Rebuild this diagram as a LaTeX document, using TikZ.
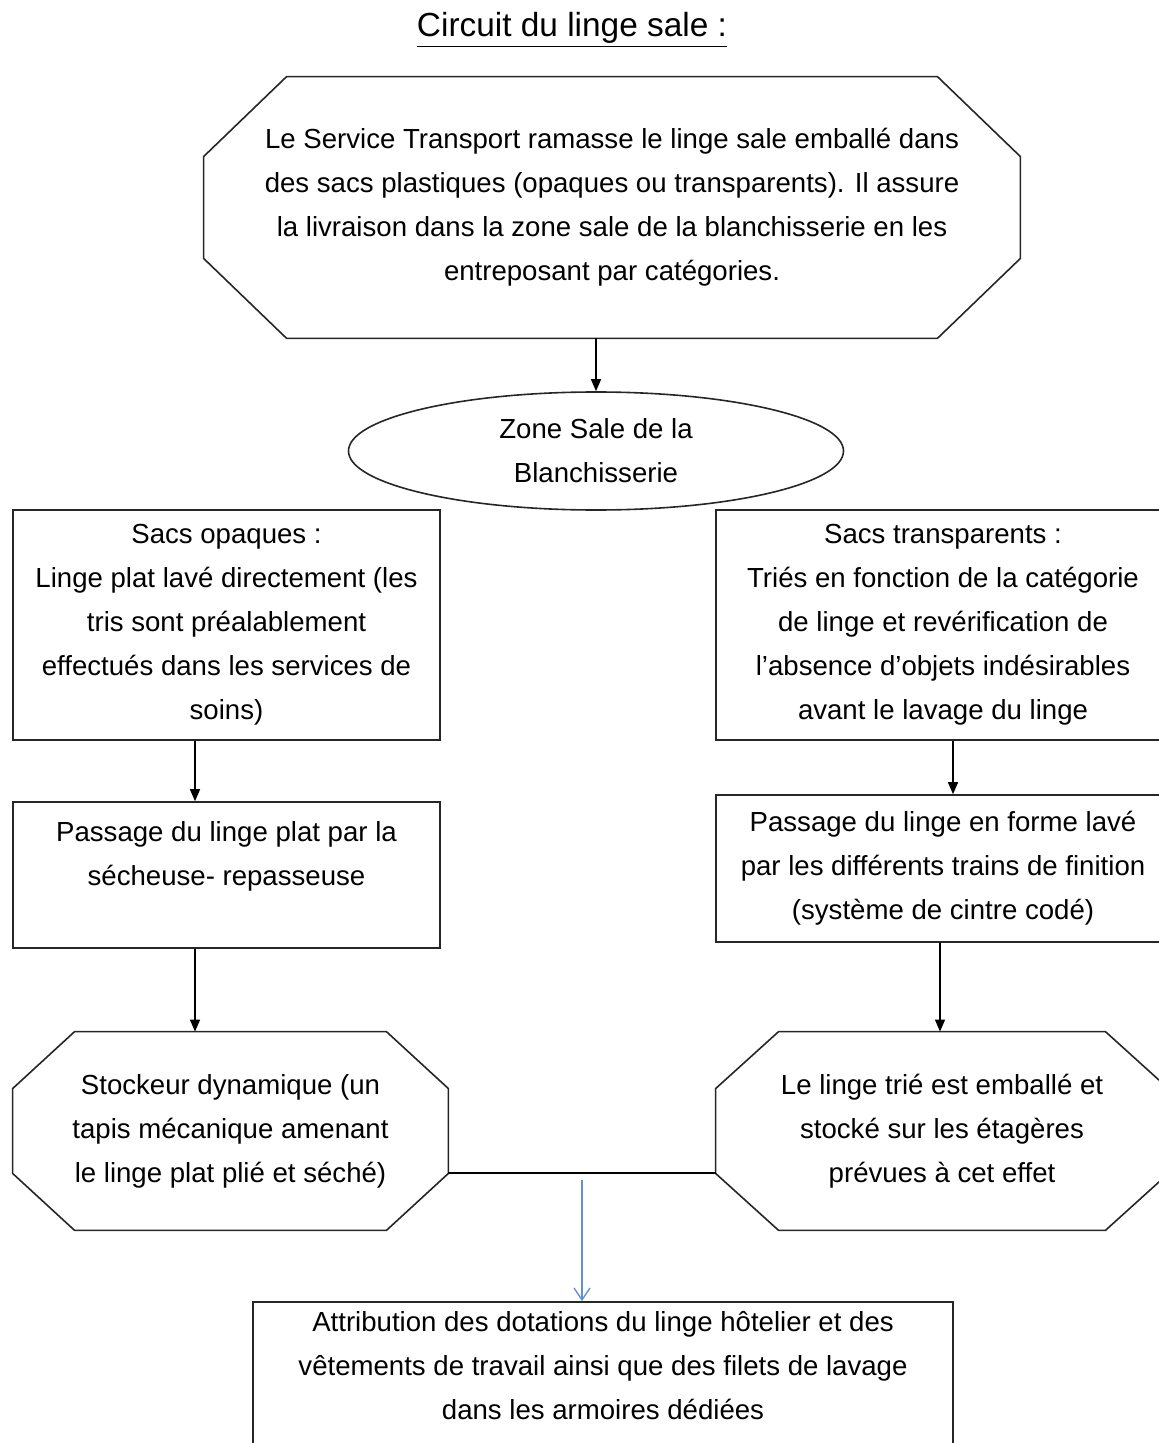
\documentclass[tikz,border=0pt]{standalone}
\usepackage{fontspec}
\setmainfont{Liberation Sans}
\usetikzlibrary{calc}
\usetikzlibrary{shapes.geometric}
\usetikzlibrary{arrows.meta}

\definecolor{arrowblue}{RGB}{100,145,205}

\tikzset{
  txt/.style={align=center, font=\fontsize{13.8}{22}\selectfont, inner sep=0pt},
  box/.style={txt, draw=black!85, line width=0.8pt, rectangle},
  octo/.style={txt, rectangle},
  border/.style={draw=black!85, line width=0.8pt},
  arr/.style={-{Triangle[length=6pt,width=5pt]}, line width=0.7pt},
  bluearr/.style={-{Straight Barb[length=6pt,width=8pt]}, arrowblue, line width=0.7pt}
}

% octagon round a node: #1 node, #2 horizontal cut, #3 vertical cut
\newcommand{\octoborder}[3]{%
  \draw[border] ($(#1.north west)+(#2,0)$) -- ($(#1.north east)+(-#2,0)$)
    -- ($(#1.north east)+(0,#3)$) -- ($(#1.south east)+(0,-#3)$)
    -- ($(#1.south east)+(-#2,0)$) -- ($(#1.south west)+(#2,0)$)
    -- ($(#1.south west)+(0,-#3)$) -- ($(#1.north west)+(0,#3)$) -- cycle;}

\begin{document}
\begin{tikzpicture}[x=0.5pt,y=-0.5pt]
            % Page size of the reference (pixels)
            \useasboundingbox (0,0) rectangle (1158,1443);

            % Title
            \node[txt, font=\fontsize{16.7}{20}\selectfont] (title) at (572,30) {\underline{Circuit du linge sale :}};

            % Collecting by the transport service
            \node[octo, minimum width=408pt, minimum height=130.5pt] (transport) at (612,207.5)
                {Le Service Transport ramasse le linge sale emballé dans\\
                 des sacs plastiques (opaques ou transparents). Il assure\\
                 la livraison dans la zone sale de la blanchisserie en les\\
                 entreposant par catégories.};
            \octoborder{transport}{83}{80}

            \node[txt, draw=black!85, line width=0.8pt, ellipse, minimum width=247.5pt, minimum height=59pt] (zone) at (596,451)
                {Zone Sale de la\\Blanchisserie};

            % Left column: opaque bags
            \node[box, minimum width=213.5pt, minimum height=115pt] (opaques) at (226.5,625)
                {Sacs opaques :\\
                 Linge plat lavé directement (les\\
                 tris sont préalablement\\
                 effectués dans les services de\\
                 soins)};
            \node[box, minimum width=213.5pt, minimum height=73pt] (plat) at (226.5,875)
                {Passage du linge plat par la\\
                 sécheuse- repasseuse\\
                 \mbox{}};
            \node[octo, minimum width=217.5pt, minimum height=99pt] (stockeur) at (230.5,1131)
                {Stockeur dynamique (un\\
                 tapis mécanique amenant\\
                 le linge plat plié et séché)};
            \octoborder{stockeur}{62}{57}

            % Right column: transparent bags
            \node[box, minimum width=227pt, minimum height=115pt] (transparents) at (943,625)
                {Sacs transparents :\\
                 Triés en fonction de la catégorie\\
                 de linge et revérification de\\
                 l'absence d'objets indésirables\\
                 avant le lavage du linge};
            \node[box, minimum width=227pt, minimum height=73.5pt] (forme) at (943,868.5)
                {Passage du linge en forme lavé\\
                 par les différents trains de finition\\
                 (système de cintre codé)};
            \node[octo, minimum width=226pt, minimum height=99pt] (etageres) at (942,1131)
                {Le linge trié est emballé et\\
                 stocké sur les étagères\\
                 prévues à cet effet};
            \octoborder{etageres}{63}{57}

            % Final allocation
            \node[box, minimum width=350pt, minimum height=85pt] (dotations) at (603,1387)
                {Attribution des dotations du linge hôtelier et des\\
                 vêtements de travail ainsi que des filets de lavage\\
                 dans les armoires dédiées\\
                 \mbox{}};

            % Arrows
            \coordinate (p1) at ($(plat.south)+(-31.5,0)$);
            \coordinate (f1) at ($(forme.south)+(-3,0)$);
            \draw[arr] (zone.north |- transport.south) -- (zone.north);
            \draw[arr] ($(opaques.south)+(-31.5,0)$) -- ($(plat.north)+(-31.5,0)$);
            \draw[arr] ($(transparents.south)+(10,0)$) -- ($(forme.north)+(10,0)$);
            \draw[arr] (p1) -- (p1 |- stockeur.north);
            \draw[arr] (f1) -- (f1 |- etageres.north);

            % Joining line and blue arrow
            \coordinate (jL) at ($(stockeur.east)+(0,42)$);
            \coordinate (jR) at (jL -| etageres.west);
            \coordinate (jM) at ($(jL)!0.5!(jR)+(0,7)$);
            \draw[line width=1.2pt] (jL) -- (jR);
            \draw[bluearr] (jM) -- (jM |- dotations.north);

        \end{tikzpicture}
\end{document}
